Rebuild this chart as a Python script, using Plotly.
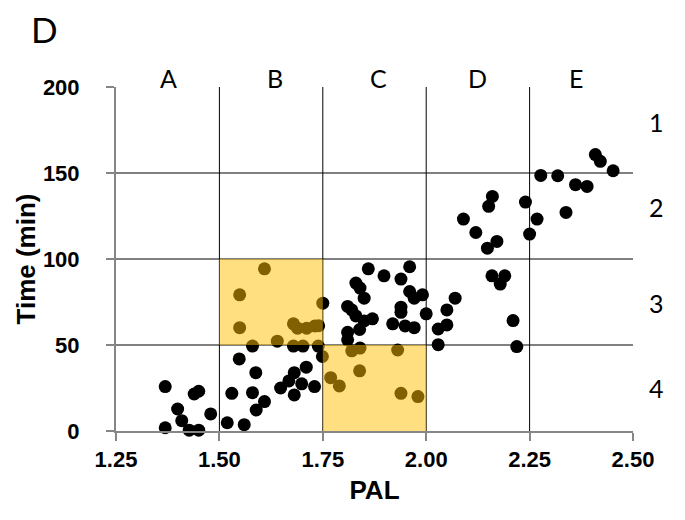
import plotly.graph_objects as go

# PAL vs. time scatter with a 5x4 grid of categories
pal = [
    1.369, 1.399, 1.409, 1.369, 1.427, 1.450, 1.439, 1.450, 1.479,
    1.519, 1.530, 1.548, 1.560, 1.580, 1.588, 1.589, 1.580, 1.609,
    1.648, 1.668, 1.681, 1.681, 1.699, 1.710, 1.730, 1.749, 1.679,
    1.702, 1.739,
    1.640, 1.609, 1.549, 1.549, 1.750, 1.679, 1.689, 1.711, 1.731, 1.740,
    1.769, 1.790, 1.839, 1.820, 1.840, 1.931, 1.939, 1.980,
    1.860, 1.898, 1.960, 1.939, 1.830, 1.840, 1.850, 1.960, 1.971,
    1.991, 1.939, 1.939, 2.000, 1.810, 1.820, 1.830, 1.850, 1.870,
    1.839, 1.810, 1.810, 1.919, 1.949, 1.971,
    2.029, 2.029, 2.050, 2.050, 2.070, 2.159, 2.190, 2.179, 2.210,
    2.219, 2.090, 2.120, 2.148, 2.171, 2.151, 2.160, 2.240, 2.250, 2.268,
    2.277, 2.318, 2.361, 2.389, 2.338, 2.409, 2.421, 2.452,
]
time_min = [
    25.8, 12.8, 6.0, 1.9, 0.5, 0.5, 21.5, 23.1, 9.9,
    4.8, 21.9, 41.9, 3.7, 22.3, 33.9, 12.2, 49.4, 17.1,
    25.0, 29.1, 33.9, 21.0, 27.4, 37.1, 25.8, 43.3, 49.4,
    49.4, 49.4,
    52.2, 94.3, 79.2, 60.1, 74.3, 62.3, 59.8, 59.8, 61.1, 61.2,
    31.0, 26.2, 35.0, 46.6, 48.2, 47.1, 21.9, 20.0,
    94.3, 90.2, 95.5, 88.3, 86.0, 83.1, 77.2, 81.1, 77.2,
    79.2, 72.0, 69.0, 68.1, 72.4, 70.4, 66.9, 64.0, 65.2,
    59.0, 57.4, 53.0, 62.3, 61.1, 60.1,
    59.3, 50.2, 61.7, 70.4, 77.2, 90.2, 90.2, 85.4, 64.2,
    49.1, 123.2, 115.4, 106.3, 110.2, 130.6, 136.4, 133.1, 114.5, 123.2,
    148.6, 148.4, 143.2, 142.2, 127.1, 160.7, 156.8, 151.3,
]

x_ticks = [1.25, 1.50, 1.75, 2.00, 2.25, 2.50]
y_ticks = [0, 50, 100, 150, 200]
col_bounds = [1.50, 1.75, 2.00, 2.25]
row_bounds = [50, 100, 150]
col_labels = ["A", "B", "C", "D", "E"]
col_label_x = [1.378, 1.635, 1.884, 2.123, 2.363]
row_labels = ["1", "2", "3", "4"]
row_label_y = [0.898, 0.651, 0.372, 0.125]
# highlighted cells: (x0, x1, y0, y1)
cells = [(1.50, 1.75, 50, 100), (1.75, 2.00, 0, 50)]

x_min, x_max = x_ticks[0], x_ticks[-1]
y_min, y_max = y_ticks[0], y_ticks[-1]

fig = go.Figure()
fig.add_trace(go.Scatter(
    x=pal, y=time_min, mode="markers",
    marker=dict(size=13, color="black", line=dict(width=0)),
    cliponaxis=False, showlegend=False, hoverinfo="x+y",
))

shapes = []
for xv in col_bounds:
    shapes.append(dict(type="line", xref="x", yref="y", x0=xv, x1=xv,
                       y0=y_min, y1=y_max, layer="below",
                       line=dict(color="black", width=1)))
for yv in row_bounds:
    shapes.append(dict(type="line", xref="x", yref="y", x0=x_min, x1=x_max,
                       y0=yv, y1=yv, layer="below",
                       line=dict(color="black", width=1)))
for (a, b, c, d) in cells:
    shapes.append(dict(type="rect", xref="x", yref="y", x0=a, x1=b, y0=c, y1=d,
                       layer="above", fillcolor="#FFC000", opacity=0.5,
                       line=dict(width=0)))

annotations = []
for lab, xv in zip(col_labels, col_label_x):
    annotations.append(dict(text=lab, xref="x", yref="paper", x=xv, y=1.026,
                            showarrow=False, xanchor="center", yanchor="middle",
                            font=dict(family="Lato", size=25, color="black")))
for lab, yv in zip(row_labels, row_label_y):
    annotations.append(dict(text=lab, xref="paper", yref="paper", x=1.046, y=yv,
                            showarrow=False, xanchor="center", yanchor="middle",
                            font=dict(family="Lato", size=25, color="black")))
annotations.append(dict(text="D", xref="paper", yref="paper", x=-0.139, y=1.17,
                        showarrow=False, xanchor="center", yanchor="middle",
                        font=dict(family="Lato", size=35, color="black")))

axis_font = dict(family="Liberation Sans", size=22, color="black")
title_font = dict(family="Liberation Sans", size=26, color="black")

fig.update_layout(
    width=685, height=520,
    margin=dict(l=116, r=52, t=87, b=89),
    plot_bgcolor="white", paper_bgcolor="white",
    shapes=shapes, annotations=annotations,
    xaxis=dict(
        range=[x_min, x_max], tickvals=x_ticks,
        ticktext=[f"<b>{v:.2f}</b>" for v in x_ticks],
        showgrid=False, zeroline=False,
        showline=True, linecolor="#868686", linewidth=2,
        ticks="outside", ticklen=8, tickcolor="#868686", tickwidth=1.5,
        tickfont=axis_font,
        title=dict(text="<b>PAL</b>", font=title_font, standoff=9),
    ),
    yaxis=dict(
        range=[y_min, y_max], tickvals=y_ticks,
        ticktext=[f"<b>{v}</b>" for v in y_ticks],
        showgrid=False, zeroline=False,
        showline=True, linecolor="#868686", linewidth=2,
        ticks="outside", ticklen=8, tickcolor="#868686", tickwidth=1.5,
        tickfont=axis_font, ticklabelstandoff=22,
        title=dict(text="<b>Time (min)</b>", font=title_font, standoff=0),
    ),
)

fig.write_html("out.html")
